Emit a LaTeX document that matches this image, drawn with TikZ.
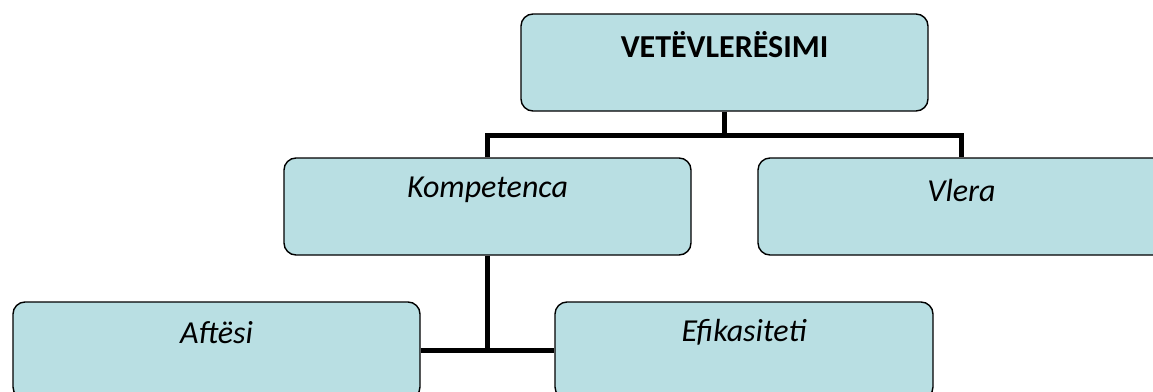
\documentclass[tikz,border=0pt]{standalone}
\usepackage{fontspec}
\setmainfont{Carlito}
\definecolor{boxfill}{HTML}{B9DFE3}

\begin{document}
\begin{tikzpicture}[x=1pt,y=-1pt,
        box/.style = {draw, line width=1.4pt, fill=boxfill, rounded corners=12pt, minimum width=407pt, minimum height=97pt},
        txt/.style = {font=\fontsize{32}{36}\selectfont\itshape},
        conn/.style = {line width=5.5pt}]
        \useasboundingbox (0,0) rectangle (1153,391);
        \begin{scope}
        \clip (0,0) rectangle (1153,391);
        \node[box] (root) at (724.5,62.5) {};
        \node[box] (komp) at (487.5,206.5) {};
        \node[box] (vlera) at (961.5,206.5) {};
        \node[box] (aft) at (216.5,350.5) {};
        \node[box,minimum width=378pt] (efik) at (744,350.5) {};
        \end{scope}
        \node[font=\fontsize{32}{36}\selectfont\bfseries] (roott) at ([yshift=-31pt]root.north) {VETËVLERËSIMI};
        \node[txt] (kompt) at ([yshift=-33pt]komp.north) {Kompetenca};
        \node[txt] (vlerat) at ([yshift=-33pt]vlera.north) {Vlera};
        \node[txt] (aftt) at ([yshift=-31pt]aft.north) {Aftësi};
        \node[txt] (efikt) at ([yshift=-31pt]efik.north) {Efikasiteti};
        \draw[conn] (root.south) -- ++(0,24) coordinate (j1);
        \draw[conn] (komp.north) |- (j1) -| (vlera.north);
        \draw[conn] (komp.south) -- (komp.south |- aft.east);
        \draw[conn] (aft.east) -- (efik.west);
    \end{tikzpicture}
\end{document}
